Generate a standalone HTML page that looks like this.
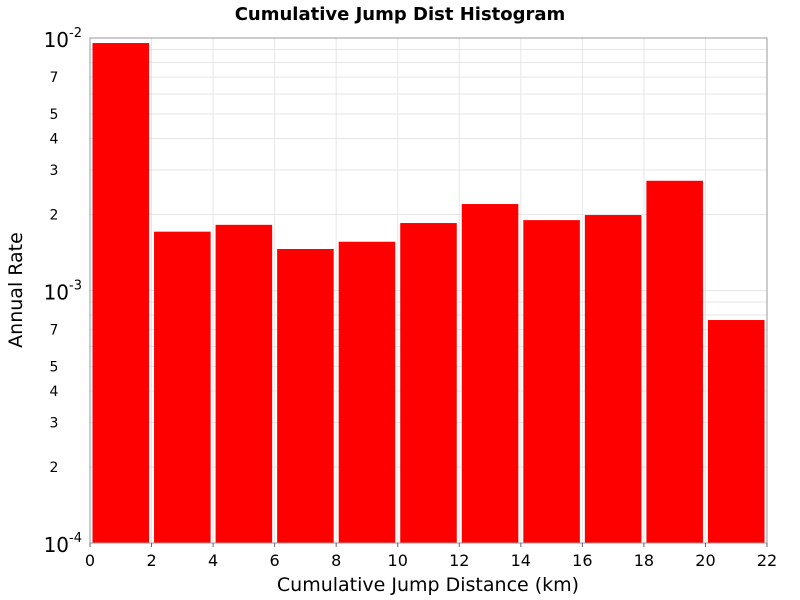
<!DOCTYPE html>
<html><head><meta charset="utf-8"><style>
body{margin:0;background:#fff;}
svg{display:block;font-family:"DejaVu Sans","Liberation Sans",sans-serif;}
</style></head><body>
<svg id="chart" width="800" height="600">
<rect x="0" y="0" width="800" height="600" fill="#fff"/>
<text x="400" y="20" text-anchor="middle" font-size="18" font-weight="bold">Cumulative Jump Dist Histogram</text>
<text x="428" y="591" text-anchor="middle" font-size="19">Cumulative Jump Distance (km)</text>
<text transform="translate(22,290) rotate(-90)" text-anchor="middle" font-size="19">Annual Rate</text>
<g id="grid"></g>
<g id="bars"></g>
<g id="axes"></g>
</svg>
<script>
const binStarts=[0,2,4,6,8,10,12,14,16,18,20];
const binWidth=2;
const rates=[0.00955,0.00171,0.00182,0.00146,0.00156,0.00185,0.00220,0.00190,0.00199,0.00272,0.000764];
const xTicks=[0,2,4,6,8,10,12,14,16,18,20,22];
const yMinorLabels=[2,3,4,5,7];
const yDecades=[-4,-3,-2];

const NS="http://www.w3.org/2000/svg";
const L=90,R=767,T=38,B=543,xMin=0,xMax=22,lMin=-4,lMax=-2;
const xs=v=>L+(v-xMin)/(xMax-xMin)*(R-L);
const ys=v=>B-(Math.log10(v)-lMin)/(lMax-lMin)*(B-T);
function mk(tag,attrs,parent){const e=document.createElementNS(NS,tag);for(const k in attrs)e.setAttribute(k,attrs[k]);parent.appendChild(e);return e;}
const grid=document.getElementById('grid'),bars=document.getElementById('bars'),axes=document.getElementById('axes');

for(let d=lMin;d<lMax;d++){for(let m=1;m<10;m++){const y=ys(m*Math.pow(10,d));
 const g=mk('line',{x1:L,x2:R,y1:y,y2:y,stroke:'#e6e6e6','stroke-width':1},grid);
 
 }}
xTicks.forEach(t=>{const x=xs(t);
 const g=mk('line',{x1:x,x2:x,y1:T,y2:B,stroke:'#e6e6e6','stroke-width':1},grid);
 
 });

rates.forEach((r,i)=>{const x0=xs(binStarts[i])+2.5,x1=xs(binStarts[i]+binWidth)-2.5,y=ys(r);
 const b=mk('rect',{x:x0,y:y,width:x1-x0,height:B-y,fill:'#ff0000'},bars);
 
 });

const frame=mk('rect',{x:L,y:T,width:R-L,height:B-T,fill:'none',stroke:'#999','stroke-width':1},axes);



xTicks.forEach(t=>{const x=xs(t);
 const tk=mk('line',{x1:x,x2:x,y1:B,y2:B+4,stroke:'#666'},axes);
 
 
 const tx=mk('text',{x:x,y:B+23,'text-anchor':'middle','font-size':16},axes);
 tx.textContent=t;
 
 });

yDecades.forEach(d=>{const y=ys(Math.pow(10,d));
 const tx=mk('text',{x:L-8,y:y+9,'text-anchor':'end','font-size':20},axes);
 tx.textContent='10';
 const sp=mk('tspan',{'font-size':13,dy:-10},tx);sp.textContent=String(d);
 
 });
for(let d=lMin;d<lMax;d++){yMinorLabels.forEach(m=>{const y=ys(m*Math.pow(10,d));
 const tx=mk('text',{x:L-36,y:y+5,'text-anchor':'middle','font-size':14},axes);
 tx.textContent=m;
 
 });}
</script>
</body></html>
